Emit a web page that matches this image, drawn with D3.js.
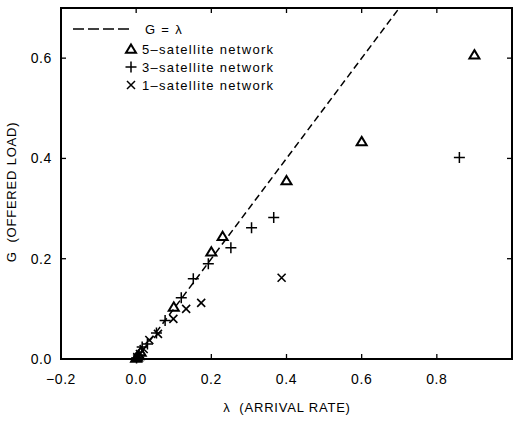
<!DOCTYPE html>
<html>
<head>
<meta charset="utf-8">
<script src="https://cdn.jsdelivr.net/npm/d3@7"></script>
<style>
  body { margin: 0; background: #fff; }
  text { font-family: "Liberation Sans", Arial, sans-serif; fill: #000; white-space: pre; }
</style>
</head>
<body>
<div id="container"></div>
<script>
// data: [lambda, G]
const fiveSat = [[0.9, 0.605], [0.6, 0.432], [0.4, 0.354], [0.23, 0.243], [0.2, 0.212], [0.1, 0.102],
  [0.012, 0.012], [0.006, 0.005], [0.002, 0.002], [0.0, 0.0]];
const threeSat = [[0.86, 0.402], [0.366, 0.282], [0.307, 0.262], [0.252, 0.222], [0.192, 0.19],
  [0.152, 0.16], [0.12, 0.122], [0.077, 0.077], [0.054, 0.052], [0.03, 0.03], [0.016, 0.024],
  [0.006, 0.008], [0.001, 0.002]];
const oneSat = [[0.387, 0.162], [0.173, 0.112], [0.133, 0.1], [0.099, 0.08], [0.058, 0.05],
  [0.035, 0.038], [0.02, 0.02], [0.01, 0.01], [0.003, 0.004]];
const xTicks = [-0.2, 0.0, 0.2, 0.4, 0.6, 0.8];
const yTicks = [0.0, 0.2, 0.4, 0.6];
const legendLabels = ["G = \u03bb", "5\u2013satellite network", "3\u2013satellite network", "1\u2013satellite network"];

const width = 513, height = 422;
const plotL = 61, plotR = 512, plotT = 8, plotB = 359;

const svg = d3.select("#container")
  .append("svg")
  .attr("width", width)
  .attr("height", height);

const x = d3.scaleLinear().domain([-0.2, 1.0]).range([plotL, plotR]);
const y = d3.scaleLinear().domain([0, 0.7]).range([plotB, plotT]);

svg.append("clipPath").attr("id", "clip")
  .append("rect")
  .attr("x", plotL).attr("y", plotT)
  .attr("width", plotR - plotL).attr("height", plotB - plotT);

// ticks pointing inward on all four sides
const tickLen = 5;
let ticks = svg.append("g").attr("stroke", "#000").attr("stroke-width", 1.3);
xTicks.slice(1).forEach(t => {
  ticks.append("line").attr("x1", x(t)).attr("x2", x(t)).attr("y1", plotB).attr("y2", plotB - tickLen);
  ticks.append("line").attr("x1", x(t)).attr("x2", x(t)).attr("y1", plotT).attr("y2", plotT + tickLen);
});
yTicks.slice(1).forEach(t => {
  ticks.append("line").attr("x1", plotL).attr("x2", plotL + tickLen).attr("y1", y(t)).attr("y2", y(t));
  ticks.append("line").attr("x1", plotR).attr("x2", plotR - tickLen).attr("y1", y(t)).attr("y2", y(t));
});

// tick labels
svg.append("g").selectAll("text")
  .data(xTicks)
  .join("text")
  .attr("x", d => x(d))
  .attr("y", plotB + 25)
  .attr("text-anchor", "middle")
  .style("font-size", "14px")
  .style("letter-spacing", "0.6px")
  .text(d => (d < 0 ? "\u2212" : "") + Math.abs(d).toFixed(1));

svg.append("g").selectAll("text")
  .data(yTicks)
  .join("text")
  .attr("x", plotL - 9)
  .attr("y", d => y(d) + 5)
  .attr("text-anchor", "end")
  .style("font-size", "14px")
  .style("letter-spacing", "0.6px")
  .text(d => d.toFixed(1));

// axis titles
svg.append("text")
  .attr("x", 287)
  .attr("y", 412)
  .attr("text-anchor", "middle")
  .style("font-size", "13px")
  .style("letter-spacing", "0.8px")
  .text("\u03bb  (ARRIVAL RATE)");

svg.append("text")
  .attr("transform", "translate(16,192) rotate(-90)")
  .attr("text-anchor", "middle")
  .style("font-size", "13px")
  .style("letter-spacing", "0.8px")
  .text("G  (OFFERED LOAD)");

// G = lambda reference line
svg.append("line")
  .attr("clip-path", "url(#clip)")
  .attr("x1", x(0)).attr("y1", y(0))
  .attr("x2", x(0.75)).attr("y2", y(0.75))
  .attr("stroke", "#000")
  .attr("stroke-width", 1.5)
  .attr("stroke-dasharray", "7,4");

const triPath = "M0,-4.5L5,3.8H-5Z";
const plusPath = "M-5.5,0H5.5M0,-5.5V5.5";
const crossPath = "M-4,-4L4,4M-4,4L4,-4";

let marks = svg.append("g").attr("fill", "none").attr("stroke", "#000");

marks.append("g").selectAll("path")
  .data(fiveSat)
  .join("path")
  .attr("transform", d => `translate(${x(d[0])},${y(d[1]) - 1})`)
  .attr("d", triPath)
  .attr("stroke-width", 2);

marks.append("g").selectAll("path")
  .data(threeSat)
  .join("path")
  .attr("transform", d => `translate(${x(d[0])},${y(d[1])})`)
  .attr("d", plusPath)
  .attr("stroke-width", 1.5);

marks.append("g").selectAll("path")
  .data(oneSat)
  .join("path")
  .attr("transform", d => `translate(${x(d[0])},${y(d[1])})`)
  .attr("d", crossPath)
  .attr("stroke-width", 1.6);

// legend
let legend = svg.append("g");
legend.append("line")
  .attr("x1", 73).attr("x2", 133).attr("y1", 29).attr("y2", 29)
  .attr("stroke", "#000").attr("stroke-width", 1.5)
  .attr("stroke-dasharray", "11,4");
legend.append("text").attr("x", 145).attr("y", 33.5)
  .style("font-size", "13px").style("letter-spacing", "1.3px").text(legendLabels[0]);

const legendMarks = [triPath, plusPath, crossPath];
legendLabels.slice(1).forEach((lab, i) => {
  let ly = 49 + i * 18;
  legend.append("path")
    .attr("transform", `translate(131,${ly})`)
    .attr("d", legendMarks[i])
    .attr("fill", "none").attr("stroke", "#000")
    .attr("stroke-width", i == 0 ? 2 : 1.5);
  legend.append("text").attr("x", 142).attr("y", ly + 4.5)
    .style("font-size", "13px").style("letter-spacing", "1.3px").text(lab);
});

// frame
svg.append("rect")
  .attr("x", plotL).attr("y", plotT)
  .attr("width", plotR - plotL).attr("height", plotB - plotT)
  .attr("fill", "none")
  .attr("stroke", "#000")
  .attr("stroke-width", 2);
</script>
</body>
</html>
